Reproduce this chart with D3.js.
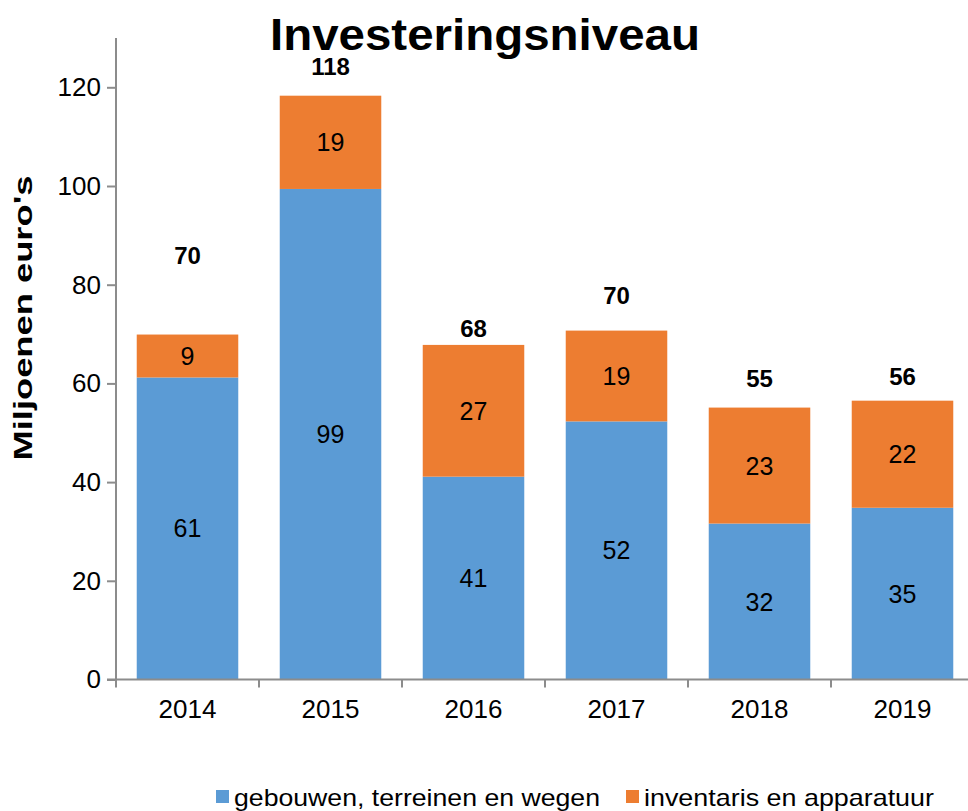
<!DOCTYPE html>
<html>
<head>
<meta charset="utf-8">
<script src="https://cdn.jsdelivr.net/npm/d3@7"></script>
<style>
  body { margin: 0; background: #fff; }
  text { font-family: "Liberation Sans", Arial, sans-serif; }
</style>
</head>
<body>
<div id="app"></div>
<script>
const WIDTH = 968
const HEIGHT = 811

// data
const years = ['2014', '2015', '2016', '2017', '2018', '2019']
const gebouwen = [61.2, 99.4, 41.1, 52.3, 31.6, 34.8]
const inventaris = [8.7, 18.9, 26.7, 18.4, 23.5, 21.7]
const gebouwenLabels = [61, 99, 41, 52, 32, 35]
const inventarisLabels = [9, 19, 27, 19, 23, 22]
const totalLabels = [70, 118, 68, 70, 55, 56]
const yTicks = [0, 20, 40, 60, 80, 100, 120]
const seriesNames = ['gebouwen, terreinen en wegen', 'inventaris en apparatuur']

const colors = ['#5B9BD5', '#ED7D31']
// how far the total label floats above each stack (px)
const totalLift = [79, 29, 17, 35, 29, 24]

const margin = { top: 38, left: 116, bottom: 131 }

const svg = d3.select('#app').append('svg')
  .attr('width', WIDTH)
  .attr('height', HEIGHT)

const x = d3.scaleBand()
  .domain(years)
  .range([margin.left, 974])
  .paddingInner(0.29)
  .paddingOuter(0.145)

const y = d3.scaleLinear()
  .domain([0, 130])
  .range([HEIGHT - margin.bottom - 0.5, HEIGHT - margin.bottom - 0.5 - 130 * 4.935])

const rows = years.map((yr, i) => ({ yr, a: gebouwen[i], b: inventaris[i], i }))
const stack = d3.stack().keys(['a', 'b'])(rows)

svg.append('g')
  .selectAll('g')
  .data(stack)
  .join('g')
  .attr('fill', (d, i) => colors[i])
.selectAll('rect')
  .data(d => d)
  .join('rect')
  .attr('x', d => x(d.data.yr))
  .attr('width', x.bandwidth())
  .attr('y', d => y(d[1]))
  .attr('height', d => y(d[0]) - y(d[1]))

// segment labels
const segLabels = [gebouwenLabels, inventarisLabels]
stack.forEach((s, k) => {
  svg.append('g')
    .selectAll('text')
    .data(s)
    .join('text')
    .attr('x', d => x(d.data.yr) + x.bandwidth() / 2)
    .attr('y', d => (y(d[0]) + y(d[1])) / 2)
    .attr('dy', '0.36em')
    .attr('text-anchor', 'middle')
    .attr('font-size', 25)
    .attr('fill', '#000')
    .text((d, i) => segLabels[k][i])
})

// totals
svg.append('g')
  .selectAll('text')
  .data(rows)
  .join('text')
  .attr('x', d => x(d.yr) + x.bandwidth() / 2)
  .attr('y', d => y(d.a + d.b) - totalLift[d.i])
  .attr('dy', '0.36em')
  .attr('text-anchor', 'middle')
  .attr('font-size', 24)
  .attr('font-weight', 'bold')
  .text(d => totalLabels[d.i])

// axes
const axisColor = '#8c8c8c'
const yAxis = svg.append('g')
  .attr('transform', `translate(${margin.left},0)`)
  .call(d3.axisLeft(y).tickValues(yTicks).tickSize(9).tickPadding(6))
yAxis.select('.domain').remove()
yAxis.append('line')
  .attr('y1', y(0)).attr('y2', margin.top)
  .attr('stroke', axisColor).attr('stroke-width', 2)

const xAxis = svg.append('g')
  .attr('transform', `translate(0,${y(0)})`)
  .call(d3.axisBottom(x).tickSize(0).tickPadding(20))
xAxis.select('.domain').remove()
xAxis.append('line')
  .attr('x1', margin.left - 9).attr('x2', WIDTH)
  .attr('stroke', axisColor).attr('stroke-width', 2)
xAxis.selectAll('.sep')
  .data(years)
  .join('line')
  .attr('class', 'sep')
  .attr('x1', d => x(d) - x.step() * x.paddingInner() / 2)
  .attr('x2', d => x(d) - x.step() * x.paddingInner() / 2)
  .attr('y1', 0).attr('y2', 8)
  .attr('stroke', axisColor).attr('stroke-width', 2)

svg.selectAll('.tick line').attr('stroke', axisColor).attr('stroke-width', 2)
svg.selectAll('.tick text').attr('font-size', 26).attr('fill', '#000')
  .style('font-family', '"Liberation Sans", Arial, sans-serif')

// y axis title
svg.append('text')
  .attr('transform', `translate(32, 318) rotate(-90)`)
  .attr('text-anchor', 'middle')
  .attr('font-size', 26)
  .attr('font-weight', 'bold')
  .attr('textLength', 285)
  .attr('lengthAdjust', 'spacingAndGlyphs')
  .text("Miljoenen euro's")

// chart title
svg.append('text')
  .attr('x', 485)
  .attr('y', 50)
  .attr('text-anchor', 'middle')
  .attr('font-size', 44)
  .attr('font-weight', 'bold')
  .attr('textLength', 430)
  .attr('lengthAdjust', 'spacingAndGlyphs')
  .text('Investeringsniveau')

// legend
const legend = svg.append('g')
  .attr('transform', 'translate(216, 797)')
const lx = [0, 410]
seriesNames.forEach((name, i) => {
  const g = legend.append('g').attr('transform', `translate(${lx[i]},0)`)
  g.append('rect')
    .attr('x', 0).attr('y', -7)
    .attr('width', 13).attr('height', 13)
    .attr('fill', colors[i])
  g.append('text')
    .attr('x', 18)
    .attr('dy', '0.36em')
    .attr('font-size', 24)
    .attr('textLength', i === 0 ? 366 : 290)
    .attr('lengthAdjust', 'spacingAndGlyphs')
    .text(name)
})
</script>
</body>
</html>
